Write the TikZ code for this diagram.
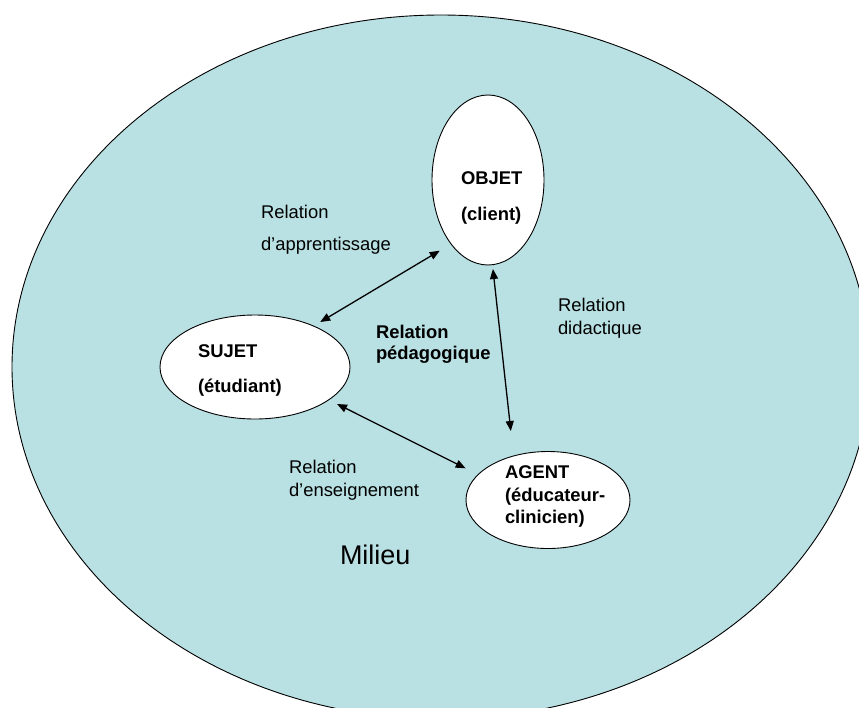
\documentclass[tikz,border=0pt]{standalone}
\usepackage{fontspec}
\setmainfont{Liberation Sans}
\usetikzlibrary{arrows.meta,shapes.geometric}
\definecolor{milieu}{RGB}{185,224,227}
\tikzset{
  oval/.style={ellipse, draw=black, line width=0.9pt, fill=white, inner sep=0pt, outer sep=0pt},
  lbl/.style={anchor=base west, inner sep=0pt, outer sep=0pt, font=\fontsize{18.4}{22}\selectfont},
  blbl/.style={lbl, font=\fontsize{18.4}{22}\selectfont\bfseries},
  arr/.style={line width=1.3pt, {Triangle[length=10pt,width=8pt]}-{Triangle[length=10pt,width=8pt]}}
}
\begin{document}
\begin{tikzpicture}[x=1pt,y=-1pt]
\useasboundingbox (0,0) rectangle (859,707);
\clip (0,0) rectangle (859,707);
\node[ellipse, draw=black, line width=0.9pt, fill=milieu, minimum width=858pt, minimum height=704pt, inner sep=0pt] (milieu) at (441,367) {};
\node[oval, minimum width=112pt, minimum height=170pt] (objet) at (488,180) {};
\node[oval, minimum width=190pt, minimum height=104pt] (sujet) at (255,367) {};
\node[oval, minimum width=164pt, minimum height=97pt] (agent) at (548,500) {};
% texts inside
\node[blbl] (t1) at (461,184) {OBJET};
\node[blbl] (t2) at (461,220) {(client)};
\node[blbl] (t3) at (198,357) {SUJET};
\node[blbl] (t4) at (198,392) {(étudiant)};
\node[blbl] (t5) at (505,478) {AGENT};
\node[blbl] (t6) at (505,501) {(éducateur-};
\node[blbl] (t7) at (505,523) {clinicien)};
\node[blbl] (t8) at (376,338) {Relation};
\node[blbl] (t9) at (376,359.5) {pédagogique};
% relation labels
\node[lbl] (r1) at (261,218) {Relation};
\node[lbl] (r2) at (261,250) {d’apprentissage};
\node[lbl] (r3) at (558,311.7) {Relation};
\node[lbl] (r4) at (558,334) {didactique};
\node[lbl] (r5) at (289,473.3) {Relation};
\node[lbl] (r6) at (289,496.7) {d’enseignement};
\node[lbl, font=\fontsize{27}{32}\selectfont] (mil) at (340,564) {Milieu};
% connectors
\draw[arr, shorten <=7.8pt, shorten >=13.2pt] (sujet.35) -- (objet.240);
\draw[arr, shorten <=4.3pt, shorten >=25.1pt] (objet.273) -- (agent.128);
\draw[arr, shorten <=9.3pt, shorten >=14pt] (sujet.336) -- (agent.160);
\end{tikzpicture}
\end{document}
